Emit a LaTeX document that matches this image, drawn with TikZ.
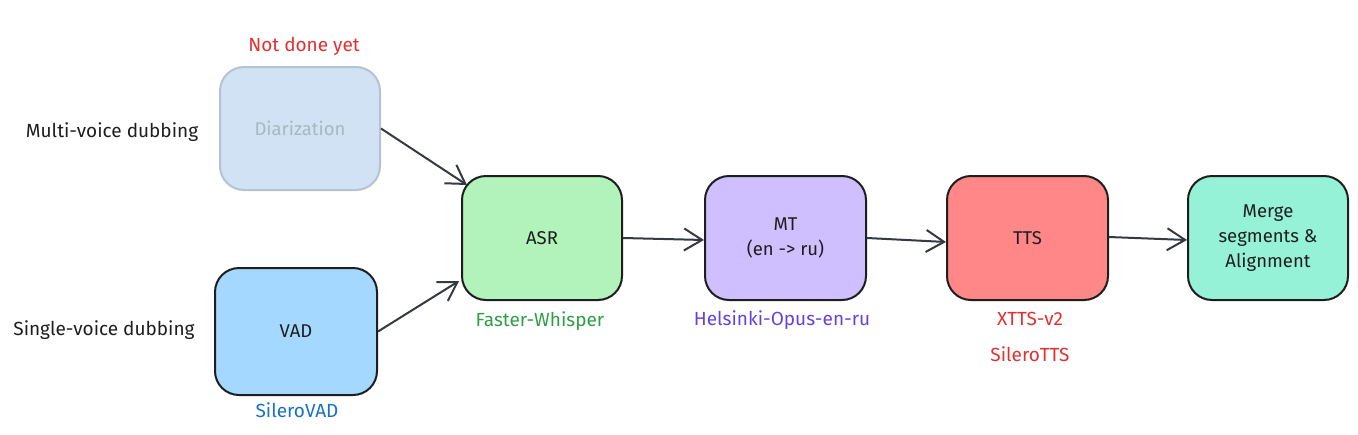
\documentclass[tikz,border=0pt]{standalone}
\usepackage{fontspec}
\setmainfont{Fira Sans}
\usetikzlibrary{arrows.meta}
\usetikzlibrary{positioning}

\definecolor{inkdark}{HTML}{1E1E1E}
\definecolor{arrowgray}{HTML}{343A40}
\definecolor{diarfill}{HTML}{D0E2F3}
\definecolor{diarline}{HTML}{B4C3D0}
\definecolor{diartext}{HTML}{A9B6C4}
\definecolor{vadfill}{HTML}{A5D8FF}
\definecolor{asrfill}{HTML}{B2F2BB}
\definecolor{mtfill}{HTML}{D0BFFF}
\definecolor{ttsfill}{HTML}{FF8787}
\definecolor{mergefill}{HTML}{96F2D7}
\definecolor{notered}{HTML}{E03131}
\definecolor{noteblue}{HTML}{1971C2}
\definecolor{notegreen}{HTML}{2F9E44}
\definecolor{noteviolet}{HTML}{6741D9}

\tikzset{
  stagebox/.style={draw=inkdark, line width=2pt, rounded corners=24pt,
    minimum width=160pt, minimum height=124pt, align=center,
    font=\fontsize{18.5}{25}\selectfont, text=inkdark},
  note/.style={font=\fontsize{19}{25}\selectfont},
  flow/.style={draw=arrowgray, line width=2pt,
    -{Straight Barb[length=18pt, width=22pt, line width=2pt]}},
}

\begin{document}
\begin{tikzpicture}[x=1pt, y=-1pt]
    \useasboundingbox (0, 0) rectangle (1358, 434);

    \node[stagebox, fill=diarfill, draw=diarline, text=diartext,
      minimum width=160pt, minimum height=123pt] (diar) at (300, 128.5) {Diarization};
    \node[stagebox, fill=vadfill, minimum width=162pt, minimum height=127pt] (vad) at (296, 331.5) {VAD};
    \node[stagebox, fill=asrfill] (asr) at (542, 238) {ASR};
    \node[stagebox, fill=mtfill, minimum width=161pt] (mt) at (785.5, 238) {MT\\(en -> ru)};
    \node[stagebox, fill=ttsfill, minimum width=161pt] (tts) at (1027.5, 238) {TTS};
    \node[stagebox, fill=mergefill] (merge) at (1268, 238) {Merge\\segments \&\\Alignment};

    \node[note, text=notered] (notdone) at (304, 46) {Not done yet};
    \node[note, text=inkdark] (multi) at (112, 132) {Multi-voice dubbing};
    \node[note, text=inkdark] (single) at (104, 330) {Single-voice dubbing};
    \node[note, text=noteblue] (silerovad) at (297, 410) {SileroVAD};
    \node[note, text=notegreen] (whisper) at (540, 321) {Faster-Whisper};
    \node[note, text=noteviolet] (opus) at (782, 320) {Helsinki-Opus-en-ru};
    \node[note, text=notered] (xtts) at (1030, 319) {XTTS-v2};
    \node[note, text=notered] (silerotts) at (1030, 354) {SileroTTS};

    \draw[flow] (diar.east) -- ([xshift=6pt, yshift=-10pt]asr.north west);
    \draw[flow] (vad.east) -- ([xshift=-2pt, yshift=20pt]asr.south west);
    \draw[flow] (asr.east) -- ([yshift=-2pt]mt.west);
    \draw[flow] (mt.east) -- ([yshift=-4pt]tts.west);
    \draw[flow] ([yshift=1pt]tts.east) -- ([yshift=-2pt]merge.west);
\end{tikzpicture}
\end{document}
